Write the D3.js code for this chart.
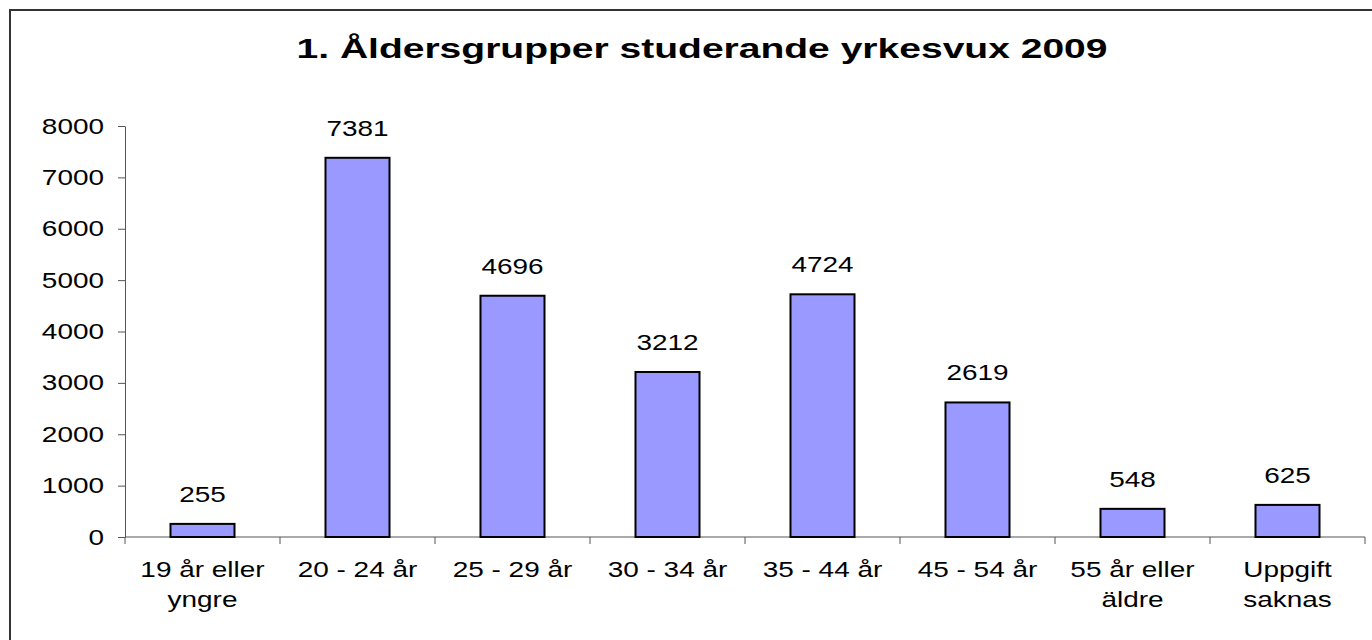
<!DOCTYPE html>
<html>
<head>
<meta charset="utf-8">
<script src="https://cdn.jsdelivr.net/npm/d3@7"></script>
<style>
  body { margin: 0; background: #fff; }
  text { font-family: "Liberation Sans", Arial, sans-serif; fill: #000; }
</style>
</head>
<body>
<div id="chart"></div>
<script>
const categories = ["19 år eller\nyngre", "20 - 24 år", "25 - 29 år", "30 - 34 år",
                    "35 - 44 år", "45 - 54 år", "55 år eller\näldre", "Uppgift\nsaknas"];
const values = [255, 7381, 4696, 3212, 4724, 2619, 548, 625];
const yTicks = [0, 1000, 2000, 3000, 4000, 5000, 6000, 7000, 8000];
const title = "1. Åldersgrupper studerande yrkesvux 2009";

const width = 1372, height = 640;
const plot = {left: 125, right: 1365, top: 126, bottom: 537};
const stretch = 1.27; // the source picture is stretched sideways

let svg = d3.select("#chart")
    .append("svg")
    .attr("width", width)
    .attr("height", height);

// outer frame (right and bottom fall outside the picture)
svg.append("rect")
    .attr("x", 10).attr("y", 10)
    .attr("width", width).attr("height", height)
    .attr("fill", "none")
    .attr("stroke", "#333")
    .attr("stroke-width", 2);

svg.append("text")
    .attr("x", 702).attr("y", 58)
    .attr("textLength", 811)
    .attr("lengthAdjust", "spacingAndGlyphs")
    .style("text-anchor", "middle")
    .style("font-size", "28px")
    .style("font-weight", "bold")
    .text(title);

let x = d3.scaleBand()
    .domain(categories)
    .range([plot.left, plot.right])
    .paddingInner(0.587)
    .paddingOuter(0.2935);

let y = d3.scaleLinear()
    .domain([0, 8000])
    .range([plot.bottom, plot.top]);

// y axis
let yAxis = svg.append("g")
    .attr("transform", `translate(${plot.left},0)`)
    .call(d3.axisLeft(y).tickValues(yTicks).tickFormat(d3.format("d"))
        .tickSize(7).tickPadding(14).tickSizeOuter(0));
yAxis.selectAll("text").attr("class", "stretch").style("font-size", "22px")
    .style("font-family", "'Liberation Sans', Arial, sans-serif");
yAxis.selectAll("line, path").attr("stroke", "#555");

// x axis: line plus tick marks at category boundaries
let step = x.step();
svg.append("line")
    .attr("x1", plot.left).attr("x2", plot.right)
    .attr("y1", y(0)).attr("y2", y(0))
    .attr("stroke", "#555");
svg.selectAll("line.xtick")
    .data(d3.range(categories.length + 1))
    .enter().append("line")
    .attr("class", "xtick")
    .attr("x1", function(i) { return plot.left + i * step; })
    .attr("x2", function(i) { return plot.left + i * step; })
    .attr("y1", y(0)).attr("y2", y(0) + 7)
    .attr("stroke", "#555");

// bars
svg.selectAll("rect.bar")
    .data(values)
    .enter().append("rect")
    .attr("class", "bar")
    .attr("x", function(d, i) { return x(categories[i]); })
    .attr("y", function(d) { return y(d); })
    .attr("width", x.bandwidth())
    .attr("height", function(d) { return y(0) - y(d); })
    .attr("fill", "#9999FF")
    .attr("stroke", "#000")
    .attr("stroke-width", 2);

// value labels
svg.selectAll("text.val")
    .data(values)
    .enter().append("text")
    .attr("class", "val stretch")
    .attr("x", function(d, i) { return x(categories[i]) + x.bandwidth() / 2; })
    .attr("y", function(d) { return y(d) - 22; })
    .style("text-anchor", "middle")
    .style("font-size", "22px")
    .text(function(d) { return d; });

// category labels
let labels = svg.selectAll("text.cat")
    .data(categories)
    .enter().append("text")
    .attr("class", "cat")
    .attr("x", function(d) { return x(d) + x.bandwidth() / 2; })
    .attr("y", 577)
    .style("text-anchor", "middle")
    .style("font-size", "22px");

labels.each(function(d) {
    let lines = d.split("\n");
    let t = d3.select(this);
    lines.forEach(function(line, i) {
        t.append("tspan")
            .attr("class", "stretch")
            .attr("x", t.attr("x"))
            .attr("dy", i === 0 ? 0 : 30)
            .text(line);
    });
});

// widen glyphs to match the source
svg.selectAll(".stretch").each(function() {
    let len = this.getComputedTextLength();
    d3.select(this).attr("textLength", len * stretch).attr("lengthAdjust", "spacingAndGlyphs");
});
</script>
</body>
</html>
